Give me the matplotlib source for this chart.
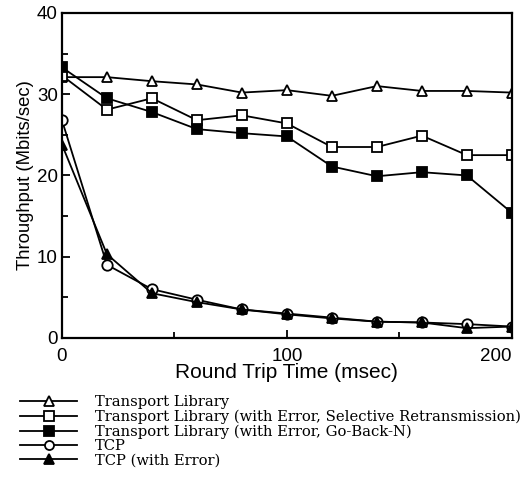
import matplotlib
matplotlib.use("Agg")
import matplotlib.pyplot as plt
from matplotlib.ticker import MultipleLocator

# round trip time (msec)
rtt = [0, 20, 40, 60, 80, 100, 120, 140, 160, 180, 200]

# throughput (Mbits/sec)
tl = [32.1, 32.1, 31.6, 31.2, 30.2, 30.5, 29.8, 31.0, 30.4, 30.4, 30.2]
tl_sr = [32.3, 28.1, 29.5, 26.8, 27.4, 26.4, 23.5, 23.5, 24.9, 22.5, 22.5]
tl_gbn = [33.3, 29.5, 27.8, 25.7, 25.2, 24.8, 21.1, 19.9, 20.4, 20.0, 15.4]
tcp = [26.8, 9.0, 6.0, 4.7, 3.5, 3.0, 2.5, 2.0, 1.9, 1.7, 1.4]
tcp_err = [23.8, 10.3, 5.5, 4.4, 3.5, 2.9, 2.4, 2.0, 1.9, 1.2, 1.4]

labels = [
    "Transport Library",
    "Transport Library (with Error, Selective Retransmission)",
    "Transport Library (with Error, Go-Back-N)",
    "TCP",
    "TCP (with Error)",
]

fig = plt.figure(figsize=(5.25, 4.8), dpi=100)
ax = fig.add_axes([0.118, 0.296, 0.857, 0.677])

style = dict(color="black", lw=1.3, ms=7.5, mew=1.3)
ax.plot(rtt, tl, marker="^", mfc="white", label=labels[0], **style)
ax.plot(rtt, tl_sr, marker="s", mfc="white", label=labels[1], **style)
ax.plot(rtt, tl_gbn, marker="s", mfc="black", label=labels[2], **style)
ax.plot(rtt, tcp, marker="o", mfc="white", label=labels[3], **style)
ax.plot(rtt, tcp_err, marker="^", mfc="black", label=labels[4], **style)

ax.set_xlim(0, 200)
ax.set_ylim(0, 40)
ax.xaxis.set_major_locator(MultipleLocator(100))
ax.xaxis.set_minor_locator(MultipleLocator(50))
ax.yaxis.set_major_locator(MultipleLocator(10))
ax.yaxis.set_minor_locator(MultipleLocator(5))
ax.tick_params(which="both", direction="in", width=1.3)
ax.tick_params(which="major", length=6, labelsize=13.5, pad=3)
ax.tick_params(axis="x", which="major", pad=7)
ax.tick_params(which="minor", length=4)
for s in ax.spines.values():
    s.set_linewidth(1.6)

ax.set_xlabel("Round Trip Time (msec)", family="Liberation Sans", fontsize=15, labelpad=-1)
ax.set_ylabel("Throughput (Mbits/sec)", family="Liberation Sans", fontsize=13.3, labelpad=2)

handles, labs = ax.get_legend_handles_labels()
leg = fig.legend(handles, labs, loc="upper left", bbox_to_anchor=(0.038, 0.177),
                 frameon=False, prop={"family": "DejaVu Serif", "size": 10.6},
                 handlelength=3.9, handletextpad=1.2, labelspacing=0.03,
                 borderpad=0, borderaxespad=0)
for h in leg.legend_handles:
    h.set_markersize(6.5)

fig.canvas.draw()
for t in ax.xaxis.get_major_ticks() + ax.yaxis.get_major_ticks():
    t.label1.set_family("Liberation Sans")
# keep the last x label inside the figure
for t in ax.xaxis.get_major_ticks():
    if abs(t.get_loc() - 200) < 1e-6:
        t.label1.set_horizontalalignment("right")

fig.savefig("out.png", dpi=100)
